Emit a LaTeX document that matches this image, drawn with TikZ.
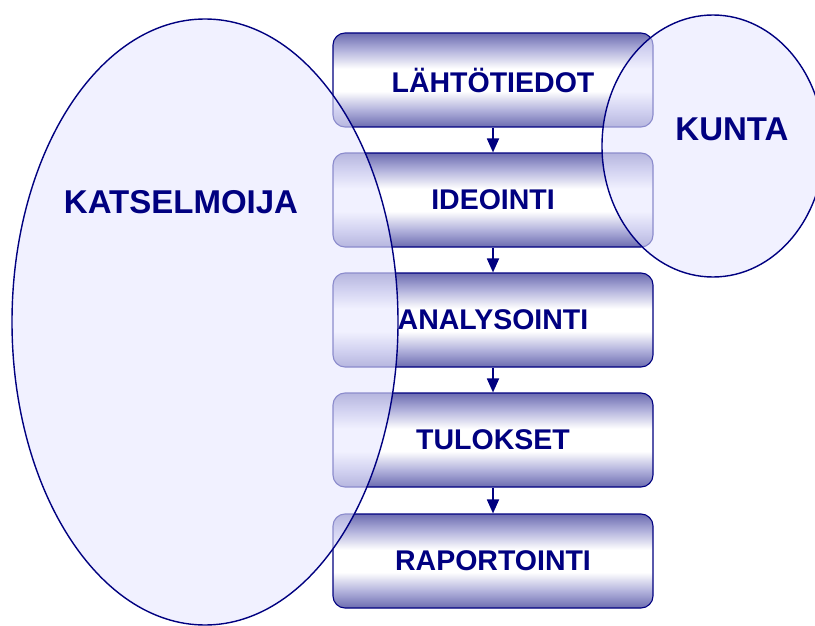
\documentclass[tikz,border=0pt]{standalone}
\usepackage{fontspec}
\setmainfont{Liberation Sans}
\usetikzlibrary{arrows.meta,shapes.geometric}
\definecolor{navy}{RGB}{0,0,128}
\definecolor{boxdark}{RGB}{108,108,176}
\definecolor{boxmid}{RGB}{178,178,220}
\definecolor{lav}{RGB}{232,232,255}
\pgfdeclareverticalshading{boxshade}{100bp}{color(0bp)=(boxdark); color(25bp)=(boxdark); color(34bp)=(boxmid); color(44bp)=(white); color(56bp)=(white); color(66bp)=(boxmid); color(75bp)=(boxdark); color(100bp)=(boxdark)}
\tikzset{
  stepbox/.style={draw=navy, line width=1.1pt, rounded corners=12pt,
    shading=boxshade,
    minimum width=320pt, minimum height=94pt, inner sep=0pt,
    font=\bfseries\fontsize{28.5}{30}\selectfont, text=navy},
  flowarrow/.style={draw=navy, line width=1.8pt, -{Triangle[length=14pt,width=12pt]}},
  bubble/.style={ellipse, inner sep=0pt,
    preaction={fill=lav, fill opacity=0.6},
    draw=navy, line width=1.4pt},
  bubbletext/.style={font=\bfseries\fontsize{33}{35}\selectfont, text=navy}
}
\begin{document}
\begin{tikzpicture}[x=1pt,y=-1pt]
\useasboundingbox (0,0) rectangle (815,626);
\clip (0,0) rectangle (815,626);
\node[stepbox] (b1) at (493,80) {LÄHTÖTIEDOT};
\node[stepbox] (b2) at (493,200) {IDEOINTI};
\node[stepbox] (b3) at (493,320) {ANALYSOINTI};
\node[stepbox] (b4) at (493,440) {TULOKSET};
\node[stepbox] (b5) at (493,561) {RAPORTOINTI};
\draw[flowarrow] (b1) -- (b2);
\draw[flowarrow] (b2) -- (b3);
\draw[flowarrow] (b3) -- (b4);
\draw[flowarrow] (b4) -- (b5);
\node[bubble, minimum width=386pt, minimum height=606pt] (kats) at (205,322) {};
\node[bubble, minimum width=222pt, minimum height=262pt] (kunta) at (713,146) {};
\node[bubbletext] (katst) at (181,202) {KATSELMOIJA};
\node[bubbletext] (kuntat) at (732,129) {KUNTA};
\end{tikzpicture}
\end{document}
